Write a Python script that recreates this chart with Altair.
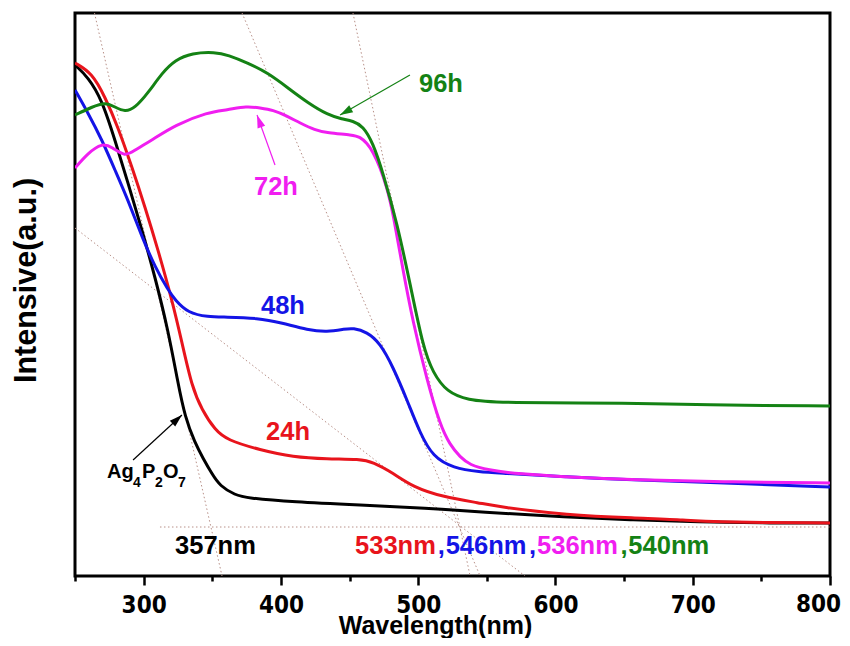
import altair as alt
import pandas as pd

# ---------------- data (wavelength in nm, intensity in a.u.) ----------------
black_nm = [250, 259.5, 269.7, 279.1, 288.6, 298.8, 308.3, 317.8, 325.0, 330.1, 337.4, 343.2, 349.8,
            355.6, 366.6, 375.3, 408.8, 457.6, 506.4, 545.0, 608.4, 656.5, 705.3, 749.0, 800]
black_val = [511, 499, 476, 436, 393, 346, 299, 246, 193, 159, 133, 118, 102,
             90, 81, 78, 74, 71, 68, 64, 59, 56, 54, 53, 53]

red_nm = [250, 262.4, 271.9, 281.3, 291.5, 301.0, 310.5, 320.7, 328.0, 335.2, 342.5, 352.0, 360.7,
          384.8, 408.8, 433.6, 457.6, 467.1, 481.7, 496.2, 518.1, 545.0, 559.6, 608.4, 656.5, 698.0,
          707.5, 800]
red_val = [513, 503, 479, 449, 409, 369, 326, 276, 233, 189, 166, 146, 136,
           126, 119, 117, 117, 114, 103, 89, 79, 73, 69, 61, 58, 56,
           54, 53]

blue_nm = [250, 259.5, 269.7, 279.1, 288.6, 298.8, 308.3, 317.8, 322.9, 332.3, 346.9, 359.3, 383.3,
           400.8, 419.7, 433.6, 446.7, 452.5, 462.7, 472.2, 481.7, 491.9, 501.3, 510.8, 525.4, 545.0,
           559.6, 608.4, 656.5, 705.3, 800]
blue_val = [486, 463, 436, 406, 376, 339, 309, 286, 276, 263, 259, 259, 258,
            253, 246, 244, 247, 248, 244, 233, 209, 176, 143, 119, 108, 104,
            103, 99, 96, 94, 89]

magenta_nm = [250, 259.5, 269.7, 277.0, 286.4, 293.7, 306.1, 322.9, 346.9, 360.7, 375.3, 384.8, 394.2,
              404.4, 413.9, 424.8, 433.6, 452.5, 457.6, 462.7, 467.1, 472.2, 477.3, 481.7, 488.9, 496.2,
              506.4, 515.9, 523.2, 530.5, 537.8, 550.1, 574.2, 608.4, 656.5, 729.4, 800]
magenta_val = [408, 423, 433, 429, 419, 426, 436, 451, 464, 466, 470, 468, 466,
               460, 453, 446, 443, 441, 439, 433, 424, 409, 388, 363, 306, 254,
               196, 151, 131, 119, 111, 106, 102, 99, 96, 94, 93]

green_nm = [250, 262.4, 271.9, 279.1, 286.4, 293.7, 303.2, 313.4, 322.9, 335.2, 352.0, 361.5, 376.0,
            390.6, 405.2, 419.7, 434.3, 444.5, 452.5, 459.8, 467.1, 474.4, 484.6, 494.0, 503.5, 510.8,
            521.0, 535.6, 559.6, 656.5, 705.3, 800]
green_val = [461, 469, 474, 469, 464, 468, 483, 503, 516, 523, 524, 521, 513,
             503, 488, 473, 461, 457, 455, 450, 433, 403, 353, 293, 229, 203,
             184, 176, 173, 173, 171, 170]

series_names = ["Ag4P2O7", "24h", "48h", "72h", "96h"]
series_colors = ["#000000", "#e8141c", "#1414e6", "#f01ef0", "#148214"]

# x tick values; the last labelled tick (800) is drawn as its own text so it stays inside the page
tick_values = list(range(250, 801, 50))
last_tick = [800]

# dotted tangent lines (start nm, start a.u., end nm, end a.u.)
tan_x1 = [264.2, 371.7, 452.5, 250.0, 311.9]
tan_y1 = [563, 563, 563, 348, 49]
tan_x2 = [357.1, 545.1, 537.8, 577.8, 800.0]
tan_y2 = [0, 0, 0, 0, 49]

# arrows (tail -> tip), colour, head angle
arr_x1 = [494.0, 395.7, 292.3]
arr_y1 = [501, 411, 116]
arr_x2 = [443.1, 382.6, 327.9]
arr_y2 = [461, 461, 161]
arr_col = ["#148214", "#f01ef0", "#000000"]
arr_ang = [240.3, 340.2, 47.4]

# centred labels
lab_text = ["96h", "72h", "48h", "24h"]
lab_x = [516.6, 396.4, 401.5, 405.2]
lab_y = [492, 389, 270, 144]
lab_col = ["#148214", "#f01ef0", "#1414e6", "#e8141c"]

# left-aligned band-edge labels
edge_text = ["357nm", "533nm", ",", "546nm", ",", "536nm", ",", "540nm"]
edge_x = [322.9, 454.0, 514.2, 520.0, 580.7, 586.6, 647.3, 653.1]
edge_y = [30] * 8
edge_col = ["#000000", "#e8141c", "#1414e6", "#1414e6", "#1414e6", "#f01ef0", "#148214", "#148214"]

# Ag4P2O7 label: main letters and subscripts
chem_main = ["Ag", "P", "O"]
chem_main_x = [273.3, 298.8, 314.1]
chem_main_y = [98, 98, 98]
chem_sub = ["4", "2", "7"]
chem_sub_x = [292.3, 308.3, 325.0]
chem_sub_y = [89, 89, 89]

# ---------------- tables ----------------
rows = []
for name, xs, ys in zip(series_names, [black_nm, red_nm, blue_nm, magenta_nm, green_nm],
                        [black_val, red_val, blue_val, magenta_val, green_val]):
    for i, (a, b) in enumerate(zip(xs, ys)):
        rows.append({"series": name, "nm": a, "val": b, "order": i})
curves = pd.DataFrame(rows)

tangents = pd.DataFrame({"nm": tan_x1, "val": tan_y1, "nm2": tan_x2, "val2": tan_y2})
arrows = pd.DataFrame({"nm": arr_x1, "val": arr_y1, "nm2": arr_x2, "val2": arr_y2, "col": arr_col})
heads = pd.DataFrame({"nm": arr_x2, "val": arr_y2, "col": arr_col, "ang": arr_ang})
labels = pd.DataFrame({"nm": lab_x, "val": lab_y, "text": lab_text, "col": lab_col})
edges = pd.DataFrame({"nm": edge_x, "val": edge_y, "text": edge_text, "col": edge_col})
chem_a = pd.DataFrame({"nm": chem_main_x, "val": chem_main_y, "text": chem_main})
chem_b = pd.DataFrame({"nm": chem_sub_x, "val": chem_sub_y, "text": chem_sub})
last_lab = pd.DataFrame({"nm": last_tick, "text": [str(v) for v in last_tick]})

FONT = "Liberation Sans, Arial, sans-serif"
TICK_FONT = "Liberation Sans Narrow, DejaVu Sans Condensed, Arial Narrow, sans-serif"

xaxis = alt.Axis(
    title="Wavelength(nm)",
    values=tick_values,
    labelExpr="(datum.value % 100 === 0 && datum.value < 800) ? datum.label : ''",
    tickSize={"condition": {"test": "datum.value % 100 === 0", "value": 9}, "value": 5},
    tickWidth=2.5, tickColor="black", domain=False, grid=False,
    labelFont=TICK_FONT,
    labelFontSize=24, labelFontWeight="bold", labelColor="black", labelPadding=8,
    labelFlush=False, labelOverlap=False,
    titleFont=FONT, titleFontSize=25, titleFontWeight="bold", titleColor="black",
    titleX=360, titleY=57, titleBaseline="alphabetic",
)
yaxis = alt.Axis(
    title="Intensive(a.u.)", labels=False, ticks=False, domain=False, grid=False,
    titleFont=FONT, titleFontSize=30.5, titleFontWeight="bold", titleColor="black",
    titlePadding=34, titleY=267,
)

X = alt.X("nm:Q", scale=alt.Scale(domain=[250, 800], nice=False, zero=False), axis=xaxis)
Y = alt.Y("val:Q", scale=alt.Scale(domain=[0, 563], nice=False, zero=False), axis=yaxis)

tan_layer = alt.Chart(tangents).mark_rule(
    color="#b89088", strokeWidth=1, strokeDash=[1.5, 2.5], clip=True
).encode(X, Y, x2="nm2:Q", y2="val2:Q")

line_layer = alt.Chart(curves).mark_line(strokeWidth=3, interpolate="basis", clip=True).encode(
    X, Y,
    order="order:Q",
    color=alt.Color("series:N", scale=alt.Scale(domain=series_names, range=series_colors), legend=None),
)

arrow_layer = alt.Chart(arrows).mark_rule(strokeWidth=1.2).encode(
    X, Y, x2="nm2:Q", y2="val2:Q", color=alt.Color("col:N", scale=None)
)
head_layer = alt.Chart(heads).mark_point(
    shape="M0,0L-1,3.2L1,3.2Z", filled=True, size=64, opacity=1
).encode(X, Y, angle=alt.Angle("ang:Q", scale=None), color=alt.Color("col:N", scale=None))

label_layer = alt.Chart(labels).mark_text(
    font=FONT, fontWeight="bold", fontSize=25.5, align="center", baseline="middle"
).encode(X, Y, text="text:N", color=alt.Color("col:N", scale=None))

edge_layer = alt.Chart(edges).mark_text(
    font=FONT, fontWeight="bold", fontSize=25.5, align="left", baseline="middle"
).encode(X, Y, text="text:N", color=alt.Color("col:N", scale=None))

chem_main_layer = alt.Chart(chem_a).mark_text(
    font=FONT, fontWeight="bold", fontSize=20, align="left", baseline="alphabetic", color="black"
).encode(X, Y, text="text:N")
chem_sub_layer = alt.Chart(chem_b).mark_text(
    font=FONT, fontWeight="bold", fontSize=14, align="left", baseline="alphabetic", color="black"
).encode(X, Y, text="text:N")

# last tick label, placed just below the axis like the others (17 px = tick 9 + padding 8)
last_layer = alt.Chart(last_lab).mark_text(
    font=TICK_FONT, fontWeight="bold", fontSize=24, align="right", baseline="top",
    color="black", dx=11, dy=17,
).encode(X, y=alt.value(563), text="text:N")

chart = alt.layer(
    tan_layer, line_layer, arrow_layer, head_layer, label_layer, edge_layer,
    chem_main_layer, chem_sub_layer, last_layer
).properties(
    width=755, height=563,
    padding={"left": 67, "top": 5, "right": 12, "bottom": 62},
    autosize=alt.AutoSizeParams(type="none"),
).configure_view(stroke="black", strokeWidth=3)

chart.save("out.html", embed_options={"renderer": "svg", "actions": False})
